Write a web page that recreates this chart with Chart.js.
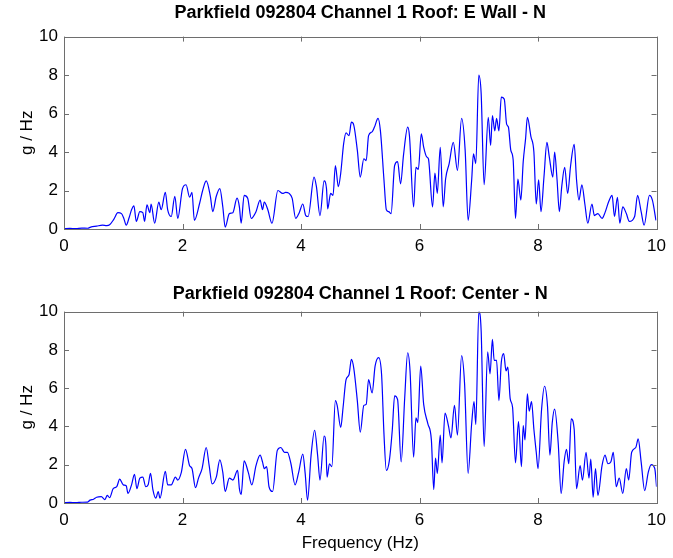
<!DOCTYPE html>
<html>
<head>
<meta charset="utf-8">
<script src="https://cdn.jsdelivr.net/npm/chart.js@4.4.1/dist/chart.umd.min.js"></script>
<style>
  html, body { margin: 0; padding: 0; background: #ffffff; }
  #wrap { position: relative; width: 673px; height: 558px; }
  .panel { position: absolute; left: 0; width: 673px; height: 279px; }
</style>
</head>
<body>
<div id="wrap">
  <div class="panel" style="top:0"><canvas id="eWall"></canvas></div>
  <div class="panel" style="top:279px"><canvas id="center"></canvas></div>
</div>
<script>
// Frequency axis ticks (Hz) and amplitude ticks (g / Hz)
const freqTicks = [0, 2, 4, 6, 8, 10];
const ampTicks = [0, 2, 4, 6, 8, 10];

// Roof: E Wall - N spectrum
const eWallFreq = [0.00,0.10,0.20,0.30,0.40,0.45,0.55,0.65,0.72,0.77,0.84,0.91,0.97,1.01,1.05,1.10,1.14,1.18,1.22,1.28,1.33,1.36,1.40,1.45,1.47,1.53,1.60,1.64,1.71,1.75,1.81,1.87,1.92,2.00,2.06,2.12,2.16,2.20,2.29,2.34,2.40,2.47,2.51,2.57,2.63,2.68,2.72,2.79,2.85,2.92,2.96,2.99,3.04,3.10,3.16,3.24,3.31,3.35,3.38,3.44,3.51,3.61,3.69,3.74,3.80,3.85,3.91,3.97,4.03,4.08,4.12,4.22,4.26,4.32,4.39,4.43,4.45,4.50,4.54,4.58,4.63,4.67,4.72,4.76,4.81,4.85,4.89,4.95,5.00,5.06,5.10,5.14,5.20,5.24,5.30,5.34,5.40,5.44,5.48,5.52,5.58,5.63,5.68,5.73,5.80,5.83,5.90,5.94,5.98,6.03,6.07,6.12,6.15,6.22,6.26,6.30,6.35,6.40,6.44,6.50,6.57,6.64,6.71,6.77,6.82,6.88,6.91,6.95,7.00,7.04,7.09,7.16,7.20,7.23,7.27,7.30,7.34,7.38,7.43,7.47,7.50,7.54,7.58,7.62,7.66,7.71,7.75,7.79,7.82,7.88,7.93,7.97,8.01,8.05,8.10,8.15,8.19,8.25,8.28,8.32,8.36,8.40,8.45,8.50,8.55,8.61,8.65,8.69,8.74,8.79,8.84,8.91,8.95,9.01,9.08,9.13,9.19,9.25,9.29,9.34,9.38,9.43,9.49,9.54,9.63,9.68,9.74,9.79,9.88,9.93,9.99];
const eWallAmp = [0.02,0.03,0.02,0.05,0.04,0.10,0.15,0.20,0.18,0.22,0.50,0.85,0.80,0.55,0.20,0.60,1.00,1.20,0.40,0.90,0.85,0.40,1.25,0.85,1.30,0.30,1.40,1.00,1.90,1.00,0.65,1.70,0.55,2.10,2.30,1.65,1.90,0.45,1.35,2.00,2.50,1.70,0.90,1.70,2.10,1.15,0.10,0.80,0.85,1.60,1.15,0.30,1.75,1.60,0.55,0.90,1.50,1.00,1.40,1.00,0.30,2.00,1.85,1.90,1.85,1.60,0.55,0.85,1.30,0.70,0.65,2.70,2.20,0.70,2.50,2.10,1.05,1.85,1.75,3.30,2.20,2.90,4.45,5.00,4.85,5.55,5.40,4.10,2.70,3.65,3.55,4.85,5.05,5.30,5.75,5.10,2.55,1.00,0.90,0.80,3.30,3.50,2.35,3.85,5.30,4.85,1.15,3.20,3.10,4.95,4.25,3.75,3.65,1.15,2.90,1.85,4.25,1.15,2.60,3.40,4.50,3.05,5.75,4.10,0.45,2.55,3.90,3.40,8.00,7.05,2.30,5.80,4.35,5.90,5.10,5.75,5.10,6.85,6.75,5.45,5.30,4.10,3.60,0.55,2.60,1.50,3.50,4.70,5.80,4.80,4.00,1.30,2.55,0.90,2.70,4.50,3.75,2.70,4.00,2.60,0.90,2.20,3.20,1.85,3.30,4.40,2.55,1.50,2.30,1.30,0.30,1.30,0.70,0.80,0.55,0.85,1.40,1.75,0.65,1.65,0.30,1.15,0.80,0.40,0.65,1.75,0.90,0.20,1.75,1.50,0.45];

// Roof: Center - N spectrum
const centerFreq = [0.00,0.10,0.20,0.30,0.40,0.44,0.50,0.55,0.63,0.69,0.73,0.77,0.83,0.89,0.94,1.00,1.05,1.08,1.14,1.19,1.23,1.28,1.33,1.38,1.42,1.46,1.50,1.55,1.59,1.62,1.71,1.75,1.81,1.88,1.92,1.98,2.05,2.12,2.16,2.22,2.27,2.33,2.40,2.45,2.50,2.57,2.63,2.68,2.72,2.79,2.85,2.93,2.96,2.99,3.04,3.11,3.17,3.24,3.31,3.35,3.38,3.42,3.46,3.52,3.60,3.66,3.72,3.77,3.83,3.90,3.96,4.03,4.07,4.11,4.17,4.23,4.28,4.32,4.39,4.42,4.44,4.48,4.52,4.58,4.61,4.67,4.71,4.76,4.81,4.85,4.89,4.95,5.00,5.06,5.10,5.14,5.20,5.25,5.31,5.36,5.40,5.44,5.49,5.54,5.58,5.63,5.69,5.75,5.80,5.84,5.90,5.94,5.97,6.02,6.07,6.14,6.20,6.24,6.27,6.30,6.35,6.38,6.43,6.49,6.53,6.59,6.64,6.71,6.76,6.82,6.88,6.92,6.95,7.00,7.04,7.09,7.15,7.19,7.23,7.26,7.30,7.34,7.38,7.42,7.46,7.49,7.53,7.57,7.62,7.67,7.72,7.75,7.78,7.82,7.85,7.89,7.93,7.97,8.00,8.06,8.11,8.16,8.20,8.24,8.28,8.34,8.39,8.44,8.48,8.52,8.56,8.61,8.65,8.71,8.75,8.81,8.86,8.89,8.93,8.97,9.01,9.08,9.13,9.18,9.23,9.27,9.32,9.37,9.43,9.49,9.53,9.58,9.65,9.69,9.74,9.80,9.86,9.91,9.97,10.00];
const centerAmp = [0.02,0.03,0.02,0.04,0.05,0.15,0.20,0.30,0.33,0.18,0.40,0.28,0.75,0.85,1.25,0.95,0.90,0.50,0.95,1.50,0.75,1.30,1.35,0.85,0.95,1.55,0.70,0.25,0.60,0.25,1.65,0.95,0.95,1.35,1.20,1.60,2.80,1.95,1.80,0.80,1.30,1.80,2.90,1.95,1.00,1.35,2.25,1.60,0.60,1.30,1.20,1.70,0.75,0.45,2.20,1.60,0.95,1.95,2.50,2.15,1.80,1.90,0.85,0.60,2.75,2.90,2.65,2.65,2.05,0.95,1.60,2.55,1.55,0.15,2.50,3.80,2.50,1.20,3.50,3.00,1.35,2.05,1.90,5.35,5.10,3.95,5.00,6.45,6.70,7.50,7.05,5.35,3.70,5.10,5.15,6.45,5.75,7.15,7.60,6.70,3.60,1.70,2.20,3.80,5.60,5.40,2.15,5.50,7.85,6.90,2.40,4.45,4.20,7.15,5.15,4.15,3.30,0.70,2.35,1.55,3.55,2.10,4.70,4.00,3.40,5.10,3.55,7.70,6.25,1.55,4.15,5.30,4.10,10.00,9.00,2.95,7.90,6.75,8.55,7.45,7.45,5.35,7.35,7.80,6.90,7.10,5.45,5.00,2.10,4.25,1.90,4.05,3.30,5.70,4.80,5.30,3.85,2.65,1.80,4.90,6.10,5.05,2.50,4.20,4.90,3.15,0.50,2.15,2.80,2.05,4.40,3.85,0.75,1.95,1.20,2.65,1.30,2.30,0.30,1.80,0.40,1.95,2.50,2.05,2.15,2.65,0.85,1.30,0.50,1.80,1.20,2.65,2.90,3.35,2.15,0.65,1.60,2.00,1.80,0.85];

const FONT = "'Liberation Sans', Arial, Helvetica, sans-serif";
const AXIS_GRAY = '#6e6e6e';

// MATLAB-style boxed axes with inward tick marks on all four sides
const boxAxes = {
  id: 'boxAxes',
  afterDatasetsDraw(chart) {
    const { ctx, chartArea: a, scales } = chart;
    const tick = 5;
    ctx.save();
    ctx.strokeStyle = AXIS_GRAY;
    ctx.lineWidth = 1;
    ctx.beginPath();
    freqTicks.forEach(v => {
      const x = Math.round(scales.x.getPixelForValue(v)) + 0.5;
      ctx.moveTo(x, a.bottom); ctx.lineTo(x, a.bottom - tick);
      ctx.moveTo(x, a.top); ctx.lineTo(x, a.top + tick);
    });
    ampTicks.forEach(v => {
      const y = Math.round(scales.y.getPixelForValue(v)) + 0.5;
      ctx.moveTo(a.left, y); ctx.lineTo(a.left + tick, y);
      ctx.moveTo(a.right, y); ctx.lineTo(a.right - tick, y);
    });
    ctx.stroke();
    ctx.strokeRect(Math.round(a.left) + 0.5, Math.round(a.top) + 0.5,
                   Math.round(a.right - a.left), Math.round(a.bottom - a.top));
    ctx.restore();
  }
};

function makeSpectrum(canvasId, title, freq, amp, opts) {
  const points = freq.map((f, i) => ({ x: f, y: amp[i] }));
  return new Chart(document.getElementById(canvasId), {
    type: 'line',
    data: {
      datasets: [{
        data: points,
        borderColor: '#0000ff',
        borderWidth: 1.2,
        pointRadius: 0,
        cubicInterpolationMode: 'monotone',
        fill: false
      }]
    },
    options: {
      responsive: true,
      maintainAspectRatio: false,
      animation: false,
      layout: { padding: { left: 0, right: 14, top: 0, bottom: 0 } },
      plugins: {
        legend: { display: false },
        tooltip: { enabled: false },
        title: {
          display: true,
          text: title,
          fullSize: false,
          color: '#000000',
          font: { family: FONT, size: 18, weight: 'bold' },
          padding: opts.titlePadding
        }
      },
      scales: {
        x: {
          type: 'linear',
          min: 0,
          max: 10,
          afterBuildTicks: s => { s.ticks = freqTicks.map(v => ({ value: v })); },
          ticks: { color: '#000000', font: { family: FONT, size: 17 }, padding: 7, maxRotation: 0 },
          grid: { display: false, drawTicks: false },
          border: { display: false },
          title: {
            display: opts.xTitle,
            text: 'Frequency (Hz)',
            color: '#000000',
            font: { family: FONT, size: 17 },
            padding: { top: 0, bottom: 4 }
          },
          afterFit: s => { s.height = opts.xHeight; }
        },
        y: {
          min: 0,
          max: 10,
          afterBuildTicks: s => { s.ticks = ampTicks.map(v => ({ value: v })); },
          ticks: { color: '#000000', font: { family: FONT, size: 17 }, padding: 6 },
          grid: { display: false, drawTicks: false },
          border: { display: false },
          title: {
            display: true,
            text: 'g / Hz',
            color: '#000000',
            font: { family: FONT, size: 17 },
            padding: { top: 17, bottom: 0 }
          },
          afterFit: s => { s.width = 64; }
        }
      }
    },
    plugins: [boxAxes]
  });
}

makeSpectrum('eWall', 'Parkfield 092804 Channel 1 Roof: E Wall - N', eWallFreq, eWallAmp,
  { titlePadding: { top: 2, bottom: 13 }, xTitle: false, xHeight: 50 });
makeSpectrum('center', 'Parkfield 092804 Channel 1 Roof: Center - N', centerFreq, centerAmp,
  { titlePadding: { top: 4, bottom: 7 }, xTitle: true, xHeight: 55 });
</script>
</body>
</html>
